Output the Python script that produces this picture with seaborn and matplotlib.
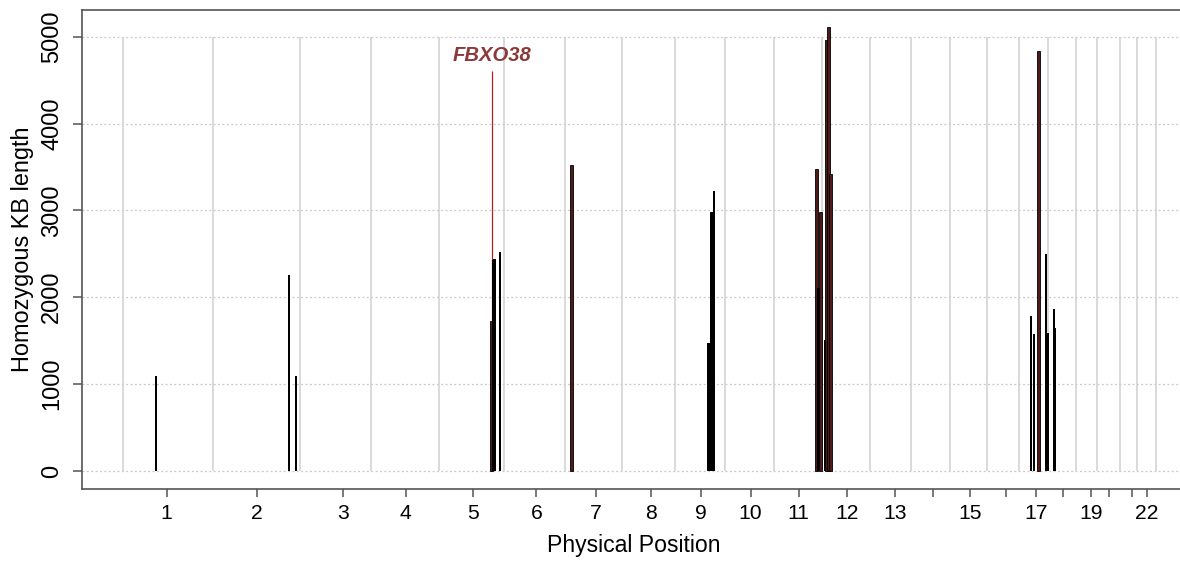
import numpy as np
import matplotlib
matplotlib.use("Agg")
import matplotlib.pyplot as plt
import seaborn as sns

# ---------------- data ----------------
chrom_length_mb = [249.25, 243.20, 198.02, 191.15, 180.92, 171.12, 159.14, 146.36,
                   141.21, 135.53, 135.01, 133.85, 115.17, 107.35, 102.53, 90.35,
                   81.20, 78.08, 59.13, 63.03, 48.13, 51.30]
tick_pos_mb = [121, 372, 613, 788, 977, 1153, 1319, 1473, 1612, 1751, 1885,
               2020, 2154, 2260, 2363, 2464, 2548, 2624, 2701, 2751, 2816, 2857]
tick_labels = ['1', '2', '3', '4', '5', '6', '7', '8', '9', '10', '11', '12',
               '13', '', '15', '', '17', '', '19', '', '', '22']

bar_chrom = [1, 2, 2, 5, 5, 5, 5, 7, 9, 9, 9, 11, 11, 11, 12, 12, 12, 12,
             17, 17, 17, 17, 17, 18, 18]
bar_pos_mb = [92.1, 213.4, 233.0, 145.8, 151.4, 154.2, 169.2, 18.3, 94.2, 102.5,
              109.2, 118.2, 124.6, 129.3, 7.4, 11.9, 18.6, 24.2, 34.2, 41.7,
              54.5, 75.2, 79.6, 16.3, 19.9]
bar_kb = [1094, 2253, 1097, 1727, 2429, 2441, 2525, 3523, 1477, 2978, 3227,
          3477, 2103, 2985, 1508, 4962, 5115, 3419, 1784, 1573, 4835, 2495,
          1592, 1861, 1646]
bar_highlight = [0, 0, 0, 1, 0, 0, 0, 1, 0, 0, 0, 1, 0, 1, 0, 1, 1, 1,
                 0, 0, 1, 0, 0, 0, 0]

gene_name = "FBXO38"
gene_chrom = 5
gene_pos_mb = 147.8
gene_kb = 4605

y_ticks = [0, 1000, 2000, 3000, 4000, 5000]

# ---------------- style ----------------
sns.set_theme(style="white")
plt.rcParams['font.family'] = ['Liberation Sans', 'DejaVu Sans']

W, H = 1180, 561
fig = plt.figure(figsize=(W / 100, H / 100), dpi=100)
ax_l, ax_r, ax_t, ax_b = 81.7, 1180, 10, 489.3
ax = fig.add_axes([ax_l / W, (H - ax_b) / H, (ax_r - ax_l) / W, (ax_b - ax_t) / H])

cum_start = np.concatenate([[0.0], np.cumsum(chrom_length_mb)[:-1]])
boundaries = np.concatenate([[0.0], np.cumsum(chrom_length_mb)])
bar_x = np.array([cum_start[c - 1] + p for c, p in zip(bar_chrom, bar_pos_mb)])
gene_x = cum_start[gene_chrom - 1] + gene_pos_mb

# grid lines
for yv in y_ticks:
    ax.axhline(yv, color='#c8c8c8', lw=0.9, ls=(0, (1.5, 2.0)), zorder=1)
ax.vlines(boundaries, 0, 5000, color='#d0d0d0', lw=1.1, zorder=1.5)

# gene marker
ax.vlines([gene_x], 0, gene_kb, color='#b22222', lw=0.9, zorder=2.5)
ax.text(gene_x, 4784, gene_name, fontsize=14.6, fontweight='bold', fontstyle='italic',
        color='#8b3a3a', ha='center', va='center', zorder=5)

# bars
mb_per_px = (boundaries[-1]) / (1155.5 - 123.3)
for x, h, hl in zip(bar_x, bar_kb, bar_highlight):
    if hl:
        ax.bar(x, h, width=2.9 * mb_per_px, bottom=0, color='#4e1a1a',
               edgecolor='black', linewidth=0.6, zorder=3)
    else:
        ax.bar(x, h, width=2.4 * mb_per_px, bottom=0, color='black',
               edgecolor='none', linewidth=0, zorder=3)

# limits
x_left = (ax_l - 123.3) * mb_per_px
x_right = (ax_r - 123.3) * mb_per_px
ax.set_xlim(x_left, x_right)
ax.set_ylim(-211, 5307)

# axes styling
for side in ['left', 'bottom', 'top']:
    ax.spines[side].set_color('#555555')
    ax.spines[side].set_linewidth(1.2)
ax.spines['right'].set_visible(False)

ax.set_xticks(tick_pos_mb)
ax.set_xticklabels(tick_labels, fontsize=15.2, color='black')
ax.set_yticks(y_ticks)
ax.set_yticklabels([str(v) for v in y_ticks], fontsize=17, color='black',
                   rotation=90, va='center')
ax.tick_params(axis='x', length=5.5, width=1.1, color='#555555', pad=5.0,
               bottom=True, top=False)
ax.tick_params(axis='y', length=6.3, width=1.1, color='#555555', pad=7.0,
               left=True, right=False)

ax.set_xlabel("Physical Position", fontsize=16.6, color='black', va='center')
ax.xaxis.set_label_coords((633.7 - ax_l) / (ax_r - ax_l), (ax_b - 545.5) / (ax_b - ax_t))
ax.set_ylabel("Homozygous KB length", fontsize=16.9, color='black', va='center')
ax.yaxis.set_label_coords((23 - ax_l) / (ax_r - ax_l), (ax_b - 249.5) / (ax_b - ax_t))

fig.savefig("out.png", dpi=100)
